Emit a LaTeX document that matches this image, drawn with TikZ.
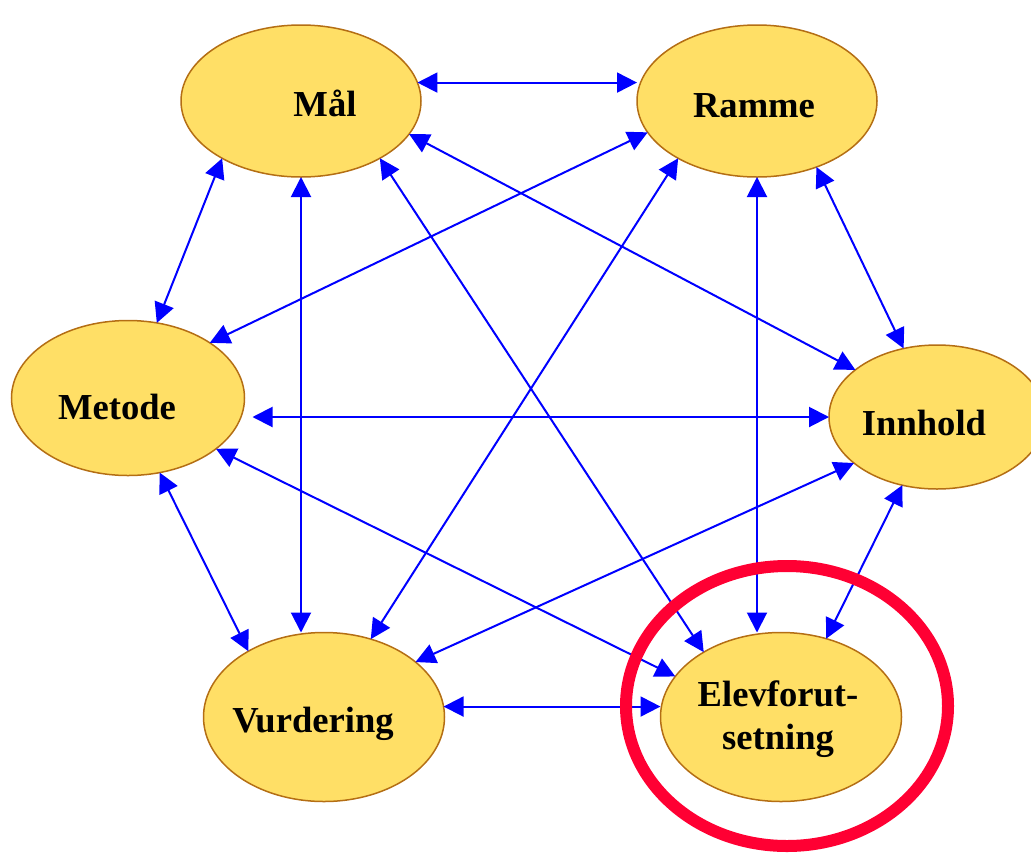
\documentclass[tikz,border=0pt]{standalone}
\usepackage{fontspec}
\setmainfont{Liberation Serif}
\usetikzlibrary{arrows.meta,shapes.geometric}
\definecolor{ellfill}{RGB}{255,223,102}
\definecolor{ellline}{RGB}{180,110,20}
\definecolor{arrblue}{RGB}{0,0,255}
\definecolor{ringred}{RGB}{255,0,51}
\begin{document}
\begin{tikzpicture}[x=1pt,y=-1pt,
  bub/.style={ellipse, draw=ellline, line width=1.5pt, fill=ellfill, inner sep=0pt, outer sep=0pt},
  lbl/.style={font=\fontsize{36.6}{43}\selectfont\bfseries, inner sep=0pt, align=center},
  link/.style={draw=arrblue, line width=2pt, {Triangle[length=20pt,width=20pt]}-{Triangle[length=20pt,width=20pt]}},
  ring/.style={draw=ringred, line width=12pt}]
\useasboundingbox (0,0) rectangle (1031,855);
\clip (0,0) rectangle (1031,855);
% ellipses
\node[bub, minimum width=240pt, minimum height=152pt] (mal) at (301,101) {};
\node[bub, minimum width=240pt, minimum height=152pt] (ramme) at (757,101) {};
\node[bub, minimum width=233pt, minimum height=155pt] (metode) at (128,398) {};
\node[bub, minimum width=216pt, minimum height=144pt] (innhold) at (937,417) {};
\node[bub, minimum width=241pt, minimum height=169pt] (vurd) at (324,717) {};
\node[bub, minimum width=241pt, minimum height=169pt] (elev) at (781,717) {};
% labels
\node[lbl, anchor=base] (malt) at (325,116) {Mål};
\node[lbl, anchor=base] (rammet) at (754,117) {Ramme};
\node[lbl, anchor=base] (metodet) at (117,419) {Metode};
\node[lbl, anchor=base] (innholdt) at (924,435) {Innhold};
\node[lbl, anchor=base] (vurdt) at (313,732) {Vurdering};
\node[lbl, anchor=center] (elevt) at (778,719) {Elevforut-\\setning};
% connectors
\draw[link] (mal.9.4) -- (mal.9.4 -| ramme.west);
\draw[link] (mal.216.9) -- (metode.69);
\draw[link] (mal.south) -- (mal.south |- vurd.north);
\draw[link] (mal.343.3) -- (innhold.150.1);
\draw[link] (mal.324) -- (elev.140.2);
\draw[link] (ramme.196.1) -- (metode.34.7);
\draw[link] (ramme.216) -- (vurd.59.7);
\draw[link] (ramme.south) -- (ramme.south |- elev.north);
\draw[link] (ramme.312.6) -- (innhold.116.3);
\draw[link, shorten >=8pt] (innhold.west) -- (innhold.west -| metode.east);
\draw[link] (metode.330.3) -- (elev.159.6);
\draw[link] (metode.293.1) -- (vurd.139.8);
\draw[link] (innhold.209.7) -- (vurd.31.5);
\draw[link] (innhold.243.1) -- (elev.60.3);
\draw[link] (vurd.5.8) -- (vurd.5.8 -| elev.west);
% highlight ring
\draw[ring] (787,706) ellipse [x radius=161pt, y radius=140pt];
\end{tikzpicture}
\end{document}
